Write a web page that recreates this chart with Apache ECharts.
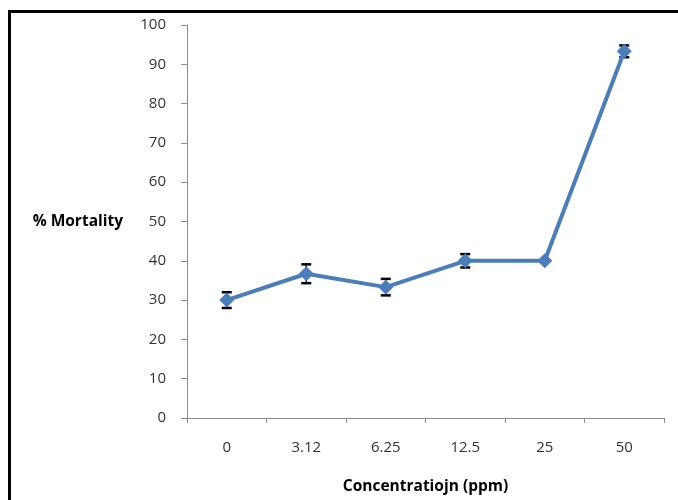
<!DOCTYPE html>
<html>
<head>
<meta charset="utf-8">
<script src="https://cdn.jsdelivr.net/npm/echarts@6/dist/echarts.min.js"></script>
<style>
html,body{margin:0;padding:0;background:#fff;}
#chart{width:678px;height:500px;}
</style>
</head>
<body>
<div id="chart"></div>
<script>
var categories = ['0', '3.12', '6.25', '12.5', '25', '50'];
var mortality = [30, 36.7, 33.3, 40, 40, 93.3];
var errors = [2.0, 2.4, 2.1, 1.7, 0, 1.5];
var yTicks = [0, 10, 20, 30, 40, 50, 60, 70, 80, 90, 100];

var chart = echarts.init(document.getElementById('chart'));
var font = '"Open Sans", "DejaVu Sans", sans-serif';

var errData = categories.map(function (c, i) {
  return [i, mortality[i] - errors[i], mortality[i] + errors[i]];
});

chart.setOption({
  animation: false,
  backgroundColor: '#fff',
  graphic: [{
    type: 'rect',
    shape: { x: 9.5, y: 11.5, width: 720, height: 520 },
    style: { fill: 'none', stroke: '#000', lineWidth: 3 },
    silent: true
  }],
  grid: { left: 187, right: 14, top: 25, bottom: 77 },
  xAxis: {
    type: 'category',
    data: categories,
    boundaryGap: true,
    name: 'Concentratiojn (ppm)',
    nameLocation: 'middle',
    nameGap: 61,
    nameTextStyle: { fontFamily: font, fontSize: 15.5, fontWeight: 'bold', color: '#000' },
    axisLine: { lineStyle: { color: '#8c8c8c', width: 1 } },
    axisTick: { show: true, length: 5, alignWithLabel: false, lineStyle: { color: '#8c8c8c' } },
    axisLabel: { fontFamily: font, fontSize: 15, color: '#333', margin: 22 },
    splitLine: { show: false }
  },
  yAxis: {
    type: 'value',
    min: 0, max: 100, interval: 10,
    name: '% Mortality',
    nameLocation: 'middle',
    nameRotate: 0,
    nameGap: 64,
    nameTextStyle: { fontFamily: font, fontSize: 15.5, fontWeight: 'bold', color: '#000', align: 'right' },
    axisLine: { show: true, lineStyle: { color: '#8c8c8c', width: 1 } },
    axisTick: { show: true, length: 6, lineStyle: { color: '#8c8c8c' } },
    axisLabel: { fontFamily: font, fontSize: 15, color: '#333', margin: 21,
      formatter: function (v) { return yTicks.indexOf(v) >= 0 ? String(v) : ''; } },
    splitLine: { show: false }
  },
  series: [{
    type: 'custom',
    z: 1,
    data: errData,
    renderItem: function (params, api) {
      var x = api.value(0);
      var lo = api.coord([x, api.value(1)]);
      var hi = api.coord([x, api.value(2)]);
      if (Math.abs(hi[1] - lo[1]) < 1) return { type: 'group', children: [] };
      var hw = 5;
      return {
        type: 'group',
        children: [
          { type: 'line', shape: { x1: lo[0], y1: lo[1], x2: hi[0], y2: hi[1] }, style: { stroke: '#000', lineWidth: 1.5 } },
          { type: 'line', shape: { x1: lo[0] - hw, y1: lo[1], x2: lo[0] + hw, y2: lo[1] }, style: { stroke: '#000', lineWidth: 2.5 } },
          { type: 'line', shape: { x1: hi[0] - hw, y1: hi[1], x2: hi[0] + hw, y2: hi[1] }, style: { stroke: '#000', lineWidth: 2.5 } }
        ]
      };
    }
  }, {
    type: 'line',
    z: 3,
    data: mortality,
    symbol: 'diamond',
    symbolSize: 15,
    lineStyle: { color: '#4a7ebb', width: 4 },
    itemStyle: { color: '#4a7ebb' }
  }]
});
</script>
</body>
</html>
